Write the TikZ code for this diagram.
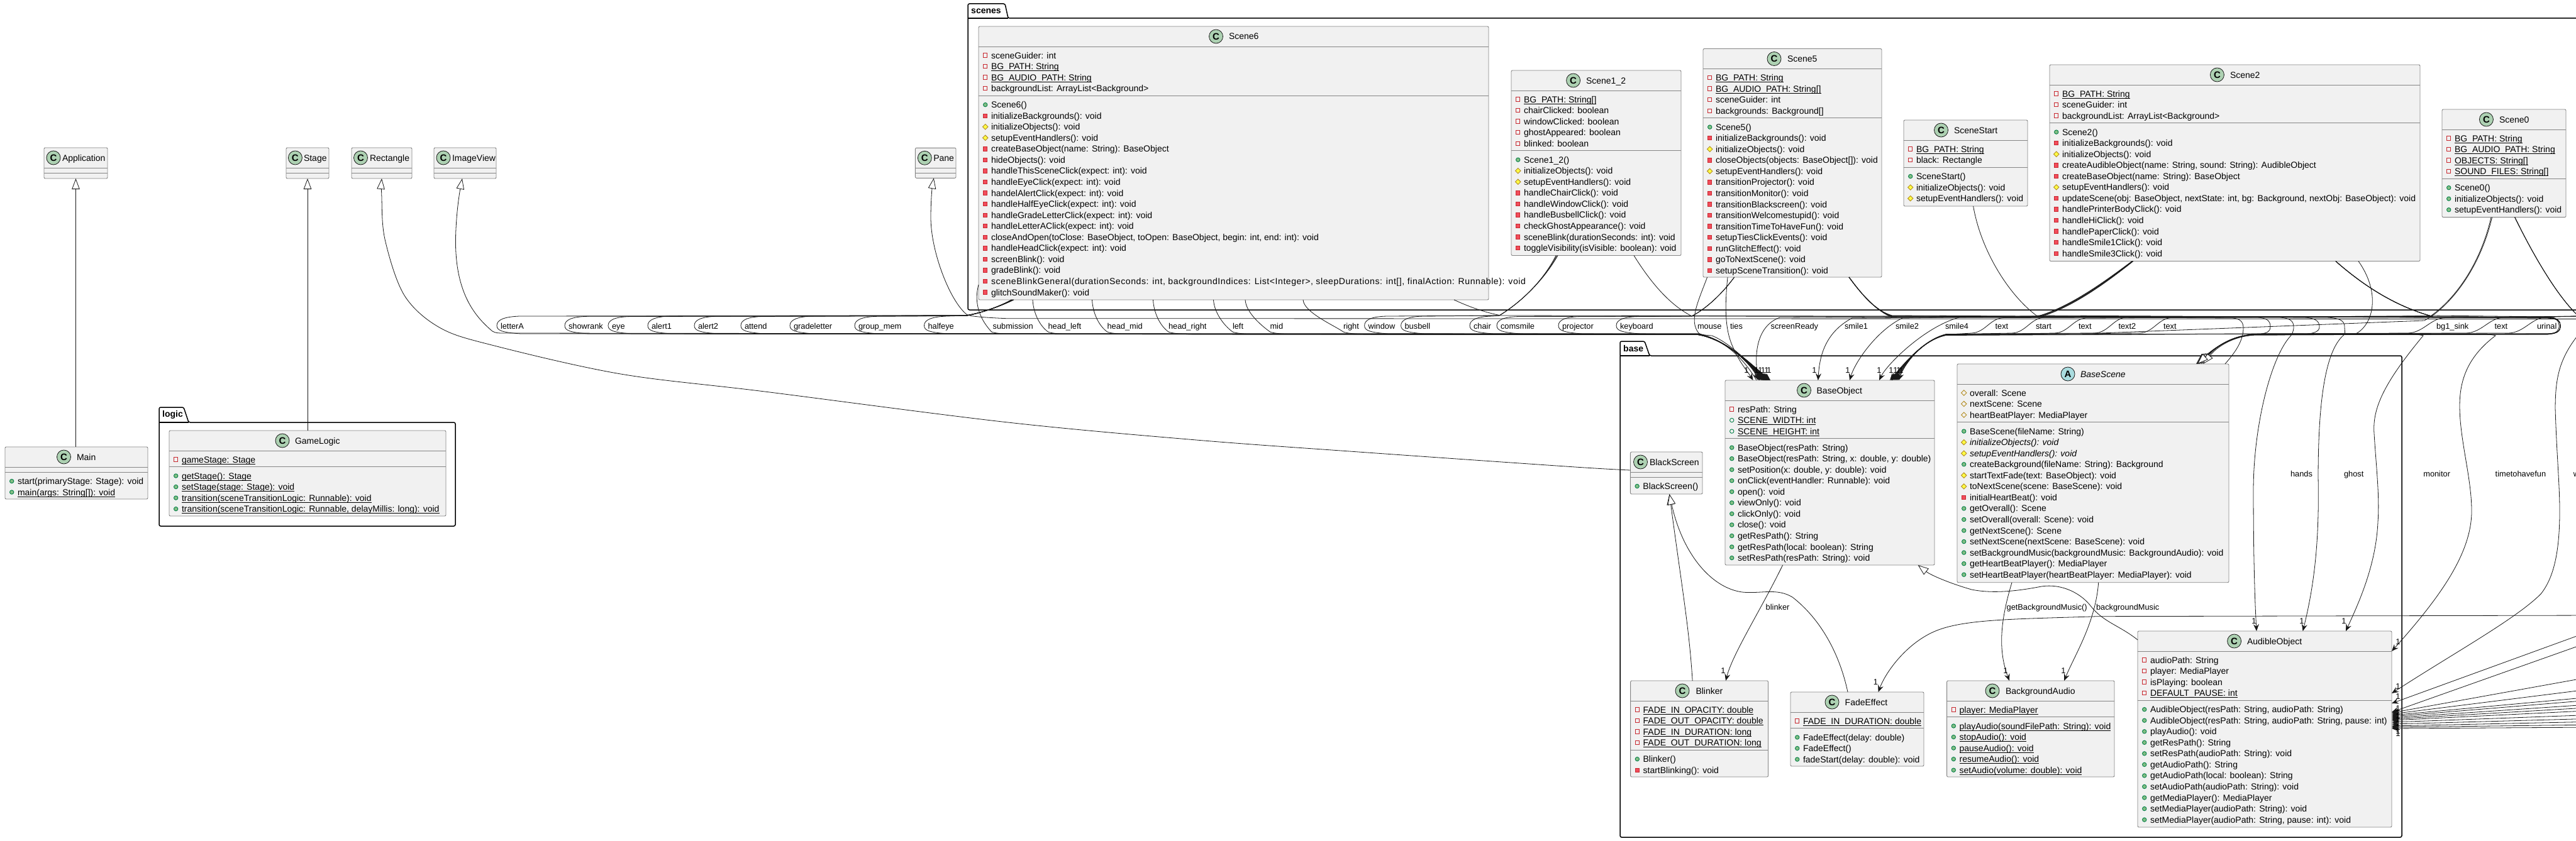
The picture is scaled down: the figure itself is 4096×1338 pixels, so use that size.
\documentclass[tikz,border=0pt]{standalone}
\usepackage{fontspec}
\setmainfont{Liberation Sans}
\usetikzlibrary{arrows.meta}
\definecolor{boxfill}{HTML}{F1F1F1}
\definecolor{boxline}{HTML}{858585}
\definecolor{edgecol}{HTML}{181818}
\definecolor{iconC}{HTML}{ADD1B2}
\definecolor{iconA}{HTML}{A9DCDF}
\definecolor{priS}{HTML}{C82930}
\definecolor{priF}{HTML}{F24D5C}
\definecolor{proS}{HTML}{B38D22}
\definecolor{proF}{HTML}{FFFF44}
\definecolor{pubS}{HTML}{038048}
\definecolor{pubF}{HTML}{84BE84}
\tikzset{
 clsbox/.style={draw=boxline,fill=boxfill,line width=.9pt,rounded corners=2pt,anchor=north west,inner sep=0pt,outer sep=0pt},
 clsline/.style={draw=boxline,line width=.9pt},
 rowtxt/.style={anchor=west,inner sep=0pt,outer sep=0pt,text height=10pt,text depth=0pt,font=\fontsize{14}{16}\selectfont},
 lbl/.style={anchor=west,inner sep=0pt,outer sep=0pt,text height=9.5pt,text depth=0pt,font=\fontsize{12.8}{15}\selectfont},
 card/.style={inner sep=0pt,outer sep=0pt,font=\fontsize{12.8}{15}\selectfont},
 iconbase/.style={circle,draw=edgecol,line width=.8pt,minimum size=22pt,inner sep=0pt,font=\fontsize{15}{16}\selectfont\bfseries},
 icC/.style={iconbase,fill=iconC},
 icA/.style={iconbase,fill=iconA},
 pkgframe/.style={draw=black,fill=white,line width=1.5pt,rounded corners=2.5pt},
 pkgname/.style={anchor=west,inner sep=0pt,font=\fontsize{14}{16}\selectfont\bfseries},
 ed/.style={draw=edgecol,line width=.8pt},
 assoc/.style={ed,-{Stealth[length=11pt,width=9pt,inset=4pt]}},
 gen/.style={ed,-{Triangle[length=17pt,width=12.5pt,fill=white]}},
}
\newcount\rcount
\def\rowstep{17.55}
\newsavebox\ulbox
\newcommand\ulx[1]{\sbox\ulbox{#1}\rlap{\rule[-2.4pt]{\wd\ulbox}{.9pt}}\usebox\ulbox}
\newcommand\icpa[2]{\draw[priS,line width=.9pt] (#1-3.2,#2-3.2) rectangle (#1+3.2,#2+3.2);}
\newcommand\icpm[2]{\draw[priS,fill=priF,line width=.9pt] (#1-3.2,#2-3.2) rectangle (#1+3.2,#2+3.2);}
\newcommand\icoa[2]{\draw[proS,line width=.9pt] (#1,#2-4.2) -- (#1+4.2,#2) -- (#1,#2+4.2) -- (#1-4.2,#2) -- cycle;}
\newcommand\icom[2]{\draw[proS,fill=proF,line width=.9pt] (#1,#2-4.2) -- (#1+4.2,#2) -- (#1,#2+4.2) -- (#1-4.2,#2) -- cycle;}
\newcommand\icua[2]{\draw[pubS,line width=.9pt] (#1,#2) circle (3.2);}
\newcommand\icum[2]{\draw[pubS,fill=pubF,line width=.9pt] (#1,#2) circle (3.2);}
% id,x0,y0,x1,y1,iconx,textx,kind,title
\newcommand\Cls[9]{%
 \node[clsbox,minimum width={(#4-#2)*1pt},minimum height={(#5-#3)*1pt}] (#1) at (#2,#3) {};
 \draw[clsline] (#2,#3+32) -- (#4,#3+32);
 \node[ic#8] (#1icon) at (#6,#3+16) {#8};
 \node[rowtxt] (#1title) at (#7,#3+16) {#9};
 \gdef\cxa{#2}\gdef\cxb{#4}%
 \pgfmathsetmacro\mytmp{#2+10.7}\global\let\rowix\mytmp
 \pgfmathsetmacro\mytmp{#2+20}\global\let\rowtx\mytmp
 \pgfmathsetmacro\mytmp{#3+46}\global\let\rowy\mytmp
}
\newcommand\Rw[2]{%
 \csname ic#1\endcsname{\rowix}{\rowy}
 \node[rowtxt] (t\the\rcount) at (\rowtx,\rowy) {#2};
 \global\advance\rcount by 1
 \pgfmathsetmacro\mytmp{\rowy+\rowstep}\global\let\rowy\mytmp
}
\newcommand\Sp{%
 \pgfmathsetmacro\mytmp{\rowy-\rowstep+11.5}
 \draw[clsline] (\cxa,\mytmp) -- (\cxb,\mytmp);
 \pgfmathsetmacro\mytmpb{\mytmp+14.5}\global\let\rowy\mytmpb
}
\newcommand\ESp{%
 \pgfmathsetmacro\mytmp{\rowy-6}
 \draw[clsline] (\cxa,\mytmp) -- (\cxb,\mytmp);
 \pgfmathsetmacro\mytmpb{\mytmp+14.5}\global\let\rowy\mytmpb
}
% id,x0,tabtop,tabr1,tabr2,bodytop,x1,y1,name
\newcommand\Pkg[9]{%
 \draw[pkgframe] (#2,#6) -- (#2,#3) -- (#4,#3) -- (#5,#6) -- (#7,#6) -- (#7,#8) -- (#2,#8) -- cycle;
 \draw[black,line width=1.5pt] (#2,#6) -- (#5,#6);
 \node[pkgname] (#1) at (#2+5,#3/2+#6/2) {#9};
}
\begin{document}
\begin{tikzpicture}[x=1pt,y=-1pt]
\useasboundingbox (0,0) rectangle (4096,1338);
\fill[white] (0,0) rectangle (4096,1338);
\Pkg{logic}{253}{648}{292}{300}{672}{724}{837}{logic}
\Pkg{scenes}{1539}{6}{1598}{1603}{29}{4130}{493}{scenes}
\Pkg{base}{2576}{543}{2615}{2623}{566}{3819}{1332}{base}

\Cls{Application}{70}{235}{171}{284}{85}{99}{C}{Application}\ESp
\Cls{Stage}{455}{235}{523}{284}{469.4}{483}{C}{Stage}\ESp
\Cls{Rectangle}{559}{235}{655}{284}{573.5}{588}{C}{Rectangle}\ESp
\Cls{ImageView}{690}{235}{789}{284}{705}{719}{C}{ImageView}\ESp
\Cls{Pane}{1455.3}{235.3}{1520}{283.3}{1470.3}{1484.3}{C}{Pane}\ESp

\Cls{Main}{8}{711}{235}{794}{101.5}{122}{C}{Main}\ESp
\Rw{um}{start(primaryStage: Stage): void}
\Rw{um}{\ulx{main(args: String[]): void}}

\Cls{GameLogic}{269}{685}{709}{821}{449}{469}{C}{GameLogic}
\Rw{pa}{\ulx{gameStage: Stage}}\Sp
\Rw{um}{\ulx{getStage(): Stage}}
\Rw{um}{\ulx{setStage(stage: Stage): void}}
\Rw{um}{\ulx{transition(sceneTransitionLogic: Runnable): void}}
\Rw{um}{\ulx{transition(sceneTransitionLogic: Runnable, delayMillis: long): void}}

\Cls{Scene6}{1556}{42}{2367}{477}{1933.5}{1954}{C}{Scene6}
\Rw{pa}{sceneGuider: int}
\Rw{pa}{\ulx{BG\_PATH: String}}
\Rw{pa}{\ulx{BG\_AUDIO\_PATH: String}}
\Rw{pa}{backgroundList: ArrayList<Background>}\Sp
\Rw{um}{Scene6()}
\Rw{pm}{initializeBackgrounds(): void}
\Rw{om}{initializeObjects(): void}
\Rw{om}{setupEventHandlers(): void}
\Rw{pm}{createBaseObject(name: String): BaseObject}
\Rw{pm}{hideObjects(): void}
\Rw{pm}{handleThisSceneClick(expect: int): void}
\Rw{pm}{handleEyeClick(expect: int): void}
\Rw{pm}{handelAlertClick(expect: int): void}
\Rw{pm}{handleHalfEyeClick(expect: int): void}
\Rw{pm}{handleGradeLetterClick(expect: int): void}
\Rw{pm}{handleLetterAClick(expect: int): void}
\Rw{pm}{closeAndOpen(toClose: BaseObject, toOpen: BaseObject, begin: int, end: int): void}
\Rw{pm}{handleHeadClick(expect: int): void}
\Rw{pm}{screenBlink(): void}
\Rw{pm}{gradeBlink(): void}
\Rw{pm}{\addfontfeature{LetterSpace=4.2}sceneBlinkGeneral(durationSeconds: int, backgroundIndices: List<Integer>, sleepDurations: int[], finalAction: Runnable): void}
\Rw{pm}{glitchSoundMaker(): void}

\Cls{Scene12}{2403}{112}{2673}{406.5}{2501.6}{2522}{C}{Scene1\_2}
\Rw{pa}{\ulx{BG\_PATH: String[]}}
\Rw{pa}{chairClicked: boolean}
\Rw{pa}{windowClicked: boolean}
\Rw{pa}{ghostAppeared: boolean}
\Rw{pa}{blinked: boolean}\Sp
\Rw{um}{Scene1\_2()}
\Rw{om}{initializeObjects(): void}
\Rw{om}{setupEventHandlers(): void}
\Rw{pm}{handleChairClick(): void}
\Rw{pm}{handleWindowClick(): void}
\Rw{pm}{handleBusbellClick(): void}
\Rw{pm}{checkGhostAppearance(): void}
\Rw{pm}{sceneBlink(durationSeconds: int): void}
\Rw{pm}{toggleVisibility(isVisible: boolean): void}

\Cls{Scene5}{2708}{77.5}{2992}{441}{2821}{2842}{C}{Scene5}
\Rw{pa}{\ulx{BG\_PATH: String}}
\Rw{pa}{\ulx{BG\_AUDIO\_PATH: String[]}}
\Rw{pa}{sceneGuider: int}
\Rw{pa}{backgrounds: Background[]}\Sp
\Rw{um}{Scene5()}
\Rw{pm}{initializeBackgrounds(): void}
\Rw{om}{initializeObjects(): void}
\Rw{pm}{closeObjects(objects: BaseObject[]): void}
\Rw{om}{setupEventHandlers(): void}
\Rw{pm}{transitionProjector(): void}
\Rw{pm}{transitionMonitor(): void}
\Rw{pm}{transitionBlackscreen(): void}
\Rw{pm}{transitionWelcomestupid(): void}
\Rw{pm}{transitionTimeToHaveFun(): void}
\Rw{pm}{setupTiesClickEvents(): void}
\Rw{pm}{runGlitchEffect(): void}
\Rw{pm}{goToNextScene(): void}
\Rw{pm}{setupSceneTransition(): void}

\Cls{SceneStart}{3027}{191}{3224}{328}{3086.5}{3107}{C}{SceneStart}
\Rw{pa}{\ulx{BG\_PATH: String}}
\Rw{pa}{black: Rectangle}\Sp
\Rw{um}{SceneStart()}
\Rw{om}{initializeObjects(): void}
\Rw{om}{setupEventHandlers(): void}

\Cls{Scene2}{3259}{103}{3848}{415.5}{3525.4}{3546}{C}{Scene2}
\Rw{pa}{\ulx{BG\_PATH: String}}
\Rw{pa}{sceneGuider: int}
\Rw{pa}{backgroundList: ArrayList<Background>}\Sp
\Rw{um}{Scene2()}
\Rw{pm}{initializeBackgrounds(): void}
\Rw{om}{initializeObjects(): void}
\Rw{pm}{createAudibleObject(name: String, sound: String): AudibleObject}
\Rw{pm}{createBaseObject(name: String): BaseObject}
\Rw{om}{setupEventHandlers(): void}
\Rw{pm}{updateScene(obj: BaseObject, nextState: int, bg: Background, nextObj: BaseObject): void}
\Rw{pm}{handlePrinterBodyClick(): void}
\Rw{pm}{handleHiClick(): void}
\Rw{pm}{handlePaperClick(): void}
\Rw{pm}{handleSmile1Click(): void}
\Rw{pm}{handleSmile3Click(): void}

\Cls{Scene0}{3883}{174}{4080}{345.6}{3953.4}{3974}{C}{Scene0}
\Rw{pa}{\ulx{BG\_PATH: String}}
\Rw{pa}{\ulx{BG\_AUDIO\_PATH: String}}
\Rw{pa}{\ulx{OBJECTS: String[]}}
\Rw{pa}{\ulx{SOUND\_FILES: String[]}}\Sp
\Rw{um}{Scene0()}
\Rw{um}{initializeObjects(): void}
\Rw{um}{setupEventHandlers(): void}

\Cls{BlackScreen}{2592.4}{719}{2707}{786}{2608.5}{2623}{C}{BlackScreen}\ESp
\Rw{um}{BlackScreen()}

\Cls{BaseObject}{2743}{605}{3076}{899}{2868.5}{2888.6}{C}{BaseObject}
\Rw{pa}{resPath: String}
\Rw{ua}{\ulx{SCENE\_WIDTH: int}}
\Rw{ua}{\ulx{SCENE\_HEIGHT: int}}\Sp
\Rw{um}{BaseObject(resPath: String)}
\Rw{um}{BaseObject(resPath: String, x: double, y: double)}
\Rw{um}{setPosition(x: double, y: double): void}
\Rw{um}{onClick(eventHandler: Runnable): void}
\Rw{um}{open(): void}
\Rw{um}{viewOnly(): void}
\Rw{um}{clickOnly(): void}
\Rw{um}{close(): void}
\Rw{um}{getResPath(): String}
\Rw{um}{getResPath(local: boolean): String}
\Rw{um}{setResPath(resPath: String): void}

\Cls{BaseScene}{3112}{579}{3544}{926.7}{3288}{3308}{A}{\itshape BaseScene}
\Rw{oa}{overall: Scene}
\Rw{oa}{nextScene: Scene}
\Rw{oa}{heartBeatPlayer: MediaPlayer}\Sp
\Rw{um}{BaseScene(fileName: String)}
\Rw{om}{\itshape initializeObjects(): void}
\Rw{om}{\itshape setupEventHandlers(): void}
\Rw{um}{createBackground(fileName: String): Background}
\Rw{om}{startTextFade(text: BaseObject): void}
\Rw{om}{toNextScene(scene: BaseScene): void}
\Rw{pm}{initialHeartBeat(): void}
\Rw{um}{getOverall(): Scene}
\Rw{um}{setOverall(overall: Scene): void}
\Rw{um}{getNextScene(): Scene}
\Rw{um}{setNextScene(nextScene: BaseScene): void}
\Rw{um}{setBackgroundMusic(backgroundMusic: BackgroundAudio): void}
\Rw{um}{getHeartBeatPlayer(): MediaPlayer}
\Rw{um}{setHeartBeatPlayer(heartBeatPlayer: MediaPlayer): void}

\Cls{Blinker}{2592.6}{1083}{2811.5}{1236}{2675}{2696.5}{C}{Blinker}
\Rw{pa}{\ulx{FADE\_IN\_OPACITY: double}}
\Rw{pa}{\ulx{FADE\_OUT\_OPACITY: double}}
\Rw{pa}{\ulx{FADE\_IN\_DURATION: long}}
\Rw{pa}{\ulx{FADE\_OUT\_DURATION: long}}\Sp
\Rw{um}{Blinker()}
\Rw{pm}{startBlinking(): void}

\Cls{FadeEffect}{2847}{1101}{3059}{1219}{2913}{2933.7}{C}{FadeEffect}
\Rw{pa}{\ulx{FADE\_IN\_DURATION: double}}\Sp
\Rw{um}{FadeEffect(delay: double)}
\Rw{um}{FadeEffect()}
\Rw{um}{fadeStart(delay: double): void}

\Cls{BackgroundAudio}{3095.6}{1083}{3362}{1236}{3168}{3189}{C}{BackgroundAudio}
\Rw{pa}{\ulx{player: MediaPlayer}}\Sp
\Rw{um}{\ulx{playAudio(soundFilePath: String): void}}
\Rw{um}{\ulx{stopAudio(): void}}
\Rw{um}{\ulx{pauseAudio(): void}}
\Rw{um}{\ulx{resumeAudio(): void}}
\Rw{um}{\ulx{setAudio(volume: double): void}}

\Cls{AudibleObject}{3399}{1004}{3803}{1316}{3552.6}{3573}{C}{AudibleObject}
\Rw{pa}{audioPath: String}
\Rw{pa}{player: MediaPlayer}
\Rw{pa}{isPlaying: boolean}
\Rw{pa}{\ulx{DEFAULT\_PAUSE: int}}\Sp
\Rw{um}{AudibleObject(resPath: String, audioPath: String)}
\Rw{um}{AudibleObject(resPath: String, audioPath: String, pause: int)}
\Rw{um}{playAudio(): void}
\Rw{um}{getResPath(): String}
\Rw{um}{setResPath(audioPath: String): void}
\Rw{um}{getAudioPath(): String}
\Rw{um}{getAudioPath(local: boolean): String}
\Rw{um}{setAudioPath(audioPath: String): void}
\Rw{um}{getMediaPlayer(): MediaPlayer}
\Rw{um}{setMediaPlayer(audioPath: String): void}
\Rw{um}{setMediaPlayer(audioPath: String, pause: int): void}

% --- straight generalisations
\draw[gen] (Application.south |- Main.north) -- (Application.south);
\draw[gen] (Stage.south |- GameLogic.north) -- (Stage.south);

% --- Rectangle <- BlackScreen
\draw[gen] plot[smooth,tension=.55] coordinates {([yshift=4.5pt]BlackScreen.west) (2500,742.7) (2160,719) (1902,700) (1600,671.7) (1216,623) (987,595) (786,550) (700,521.7) (643,470) (612,380.6) (606.8,310) (Rectangle.south)};
% --- ImageView <- BaseObject
\draw[gen] ([xshift=50pt]BaseObject.north west) .. controls (2775,575) and (2745,540) .. (2700,532) -- (800,530) .. controls (793,530) and (788,530) .. (783,527) .. controls (757,505) and (726,470) .. (724.5,390) .. controls (724,350) and (730,310) .. ([xshift=45pt]ImageView.south west);
% --- Pane
\draw[gen] (4130,507.5) -- (1600,506.7) .. controls (1560,505) and (1540,503) .. (1536.7,500) .. controls (1510,478) and (1480,400) .. (1480,346) .. controls (1480,320) and (1482,300) .. ([xshift=29.5pt]Pane.south west);

% --- Scene6 loops to the left of the scene box
\foreach \lx/\tp/\dy/\sx in {796/55/0/52,904/58/.6/52.5,973/61/1/53,1036/64/-.5/53.5,1110/66/.3/54,1184/68/.8/54.5,1262/70/-.3/55,1365/71/.6/55.5,1475.5/72/0/56}{
 \draw[assoc] ([xshift=\sx pt]Scene6.south west) .. controls (1585,490) and (1555,499) .. (1536,502+\dy*.5) -- (\lx+30,503+\dy*.5) .. controls (\lx+5,504) and (\lx-6,509) .. (\lx-6,518) .. controls (\lx-6,526) and (\lx+3,529) .. (\lx+32,531) -- (2700,531.5+\dy) .. controls (2745,540) and (2785,580) .. ([xshift=\tp pt]BaseObject.north west);
}
% --- Scene6 edges through labels right of the box
\foreach \lx/\sx/\tp/\dy in {1666.5/1642/56/.5,1760.6/1736.5/59/-.5,1858/1833.5/62/1,1960/1929.5/65/0,2019.5/1980/67/.6,2136/2072/69/-.3}{
 \draw[assoc] ([xshift={(\sx-1556)*1pt}]Scene6.south west) .. controls (\sx+1,497) and (\lx-14,518) .. (\lx,528) .. controls (\lx+5,530) and (\lx+14,531) .. (\lx+30,531.5) -- (2700,531.5+\dy) .. controls (2745,540) and (2785,580) .. ([xshift=\tp pt]BaseObject.north west);
}
\draw[assoc] ([yshift=24pt]Scene6.south west) .. controls (1549,478) and (1555,505) .. (1576.7,528) .. controls (1582,530) and (1590,531) .. (1610,531.5) -- (2700,532) .. controls (2745,540) and (2785,580) .. ([xshift=53pt]BaseObject.north west);
% --- Scene1_2 loops
\foreach \lx/\sx/\tp in {2175.6/71/60,2233.6/72.5/63,2343/74/66}{
 \draw[assoc] ([xshift=\sx pt]Scene12.south west) .. controls (2455,445) and (2420,480) .. (2384,502) -- (\lx+30,503) .. controls (\lx+5,503.5) and (\lx-6,509) .. (\lx-6,518) .. controls (\lx-6,526) and (\lx+3,529) .. (\lx+32,531) -- (2700,532) .. controls (2745,540) and (2785,580) .. ([xshift=\tp pt]BaseObject.north west);
}
% --- Scene5 loops
\foreach \lx/\tp in {2386/64,2484/67,2576/70}{
 \draw[assoc] ([xshift=49.6pt]Scene5.south west) .. controls (2740,465) and (2715,490) .. (2690,503) -- (\lx+30,503.5) .. controls (\lx+5,504) and (\lx-6,509) .. (\lx-6,518) .. controls (\lx-6,526) and (\lx+3,529) .. (\lx+32,531) -- (2700,532.5) .. controls (2745,540) and (2785,580) .. ([xshift=\tp pt]BaseObject.north west);
}
\draw[assoc] ([xshift=6.6pt]Scene5.south west) .. controls (2700,480) and (2685,510) .. (2701,530) .. controls (2705,533) and (2712,533) .. (2722,534) .. controls (2750,545) and (2785,580) .. ([xshift=62pt]BaseObject.north west);
\draw[assoc] ([xshift=39pt]Scene5.south west) .. controls (2741,500) and (2745,530) .. (2756,553.6) .. controls (2765,575) and (2778,590) .. ([xshift=44.5pt]BaseObject.north west);
% --- Scene2 bundle, to BaseObject
\draw[assoc] ([xshift=132pt]Scene2.south west) .. controls (3340,455) and (3290,490) .. (3241,503) -- (2830,505) .. controls (2790,520) and (2790,570) .. ([xshift=53pt]BaseObject.north west);
\draw[assoc] ([xshift=132.5pt]Scene2.south west) .. controls (3340,456) and (3290,491) .. (3241,504) -- (2945,506) .. controls (2900,530) and (2893,570) .. ([xshift=147.8pt]BaseObject.north west);
\draw[assoc] ([xshift=131.5pt]Scene2.south west) .. controls (3340,454) and (3290,489) .. (3241,503) -- (3025,506) .. controls (2985,525) and (2950,575) .. ([xshift=198pt]BaseObject.north west);
\draw[assoc] ([xshift=133pt]Scene2.south west) .. controls (3340,457) and (3290,491) .. (3241,505) -- (3115,505) .. controls (3060,520) and (3000,580) .. ([xshift=245pt]BaseObject.north west);
% --- S-shaped label passages
\foreach \lx/\tp/\dy in {3172.6/262/.5,3237/264/0,3305/266/1,3368.5/268/-.5,3440/270/.3}{
 \draw[assoc] ([xshift=454.8pt]Scene2.south west) .. controls (3770,465) and (3820,490) .. (3866,503) -- (\lx+15,505+\dy) .. controls (\lx-8,505) and (\lx-15,529) .. (\lx-38,530) -- (3094.5,532+\dy) .. controls (3060,540) and (3030,575) .. ([xshift=\tp pt]BaseObject.north west);
}
\foreach \lx/\tp/\dy in {3874/272/.5,3966.6/274/0,4034/276/-.5}{
 \draw[assoc] ([xshift=115.6pt]Scene0.south west) .. controls (4040,430) and (4075,480) .. (4100,503) -- (\lx+15,505+\dy) .. controls (\lx-8,505) and (\lx-20,529) .. (\lx-45,530) -- (3094.5,533+\dy) .. controls (3060,540) and (3030,575) .. ([xshift=\tp pt]BaseObject.north west);
}
\draw[assoc] ([xshift=79.5pt]Scene0.south west) .. controls (3945,420) and (3905,475) .. (3868,502) -- (3855,510) -- (3340,530) -- (3094.5,533) .. controls (3060,540) and (3030,575) .. ([xshift=265pt]BaseObject.north west);
% --- generalisations to BaseScene
\draw[gen] ([xshift=756pt]Scene6.south west) .. controls (2340,490) and (2365,498) .. (2387,502) -- (4050,505) .. controls (4068,506) and (4071,512) .. (4071,518) .. controls (4071,526) and (4068,530) .. (4050,531) -- (3585,532) .. controls (3550,534) and (3525,550) .. ([xshift=380pt]BaseScene.north west);
\draw[gen] ([xshift=195pt]Scene12.south west) .. controls (2625,450) and (2655,485) .. (2690,503) -- (4050,504.5) .. controls (4068,505) and (4071,512) .. (4071,518) .. controls (4071,526) and (4068,531) .. (4050,531.5) -- (3585,533) .. controls (3550,535) and (3525,550) .. ([xshift=381pt]BaseScene.north west);
\draw[gen] ([xshift=232pt]Scene5.south west) .. controls (2965,475) and (2985,495) .. (3008.5,503) -- (4050,504) .. controls (4066,505) and (4069,512) .. (4069,518) .. controls (4069,526) and (4066,530) .. (4050,532) -- (3585,532) .. controls (3550,534) and (3525,550) .. ([xshift=383pt]BaseScene.north west);
\draw[gen] ([xshift=110.6pt]SceneStart.south west) .. controls (3150,400) and (3195,470) .. (3238,502) -- (4050,506) .. controls (4068,507) and (4071,512) .. (4071,518) .. controls (4071,526) and (4068,531) .. (4050,531) -- (3585,532) .. controls (3550,533) and (3525,550) .. ([xshift=385pt]BaseScene.north west);
\draw[gen] ([xshift=131pt]Scene2.south west) .. controls (3340,453) and (3290,488) .. (3241,503) -- (4050,505.5) .. controls (4068,506) and (4071,512) .. (4071,518) .. controls (4071,526) and (4068,531) .. (4050,532) -- (3585,532.5) .. controls (3550,535) and (3525,550) .. ([xshift=388pt]BaseScene.north west);
\draw[gen] ([xshift=78pt]Scene0.south west) .. controls (3944,420) and (3904,475) .. (3866,502) -- (4050,504) .. controls (4068,505) and (4071,512) .. (4071,518) .. controls (4071,526) and (4068,531) .. (4050,531) -- (3585,533) .. controls (3550,535) and (3525,552) .. ([xshift=391pt]BaseScene.north west);
\draw[gen] ([xshift=491pt]Scene2.south west) .. controls (3785,465) and (3775,515) .. (3746,531) -- (3585,532) .. controls (3550,534) and (3525,550) .. ([xshift=382pt]BaseScene.north west);
\draw[ed] ([xshift=232pt]Scene5.south west) .. controls (2965,475) and (2985,495) .. (3008.5,503) -- (3550,506) .. controls (3562,507) and (3567,512) .. (3567,522) .. controls (3567,545) and (3550,565) .. ([xshift=426pt]BaseScene.north west);
% --- bulging edges to AudibleObject
\draw[assoc] ([xshift=232pt]Scene5.south west) .. controls (2965,475) and (2985,495) .. (3008.5,504) -- (3625,505) .. controls (3640,506) and (3647,510) .. (3647,520) .. controls (3647,528) and (3644,532) .. (3641.7,535) .. controls (3610,570) and (3583,680) .. (3583,780) .. controls (3583,880) and (3585,950) .. ([xshift=189pt]AudibleObject.north west);
\draw[assoc] ([xshift=232pt]Scene5.south west) .. controls (2965,475) and (2985,495) .. (3008.5,503) -- (3700,505) .. controls (3720,506) and (3728,510) .. (3728,520) .. controls (3728,528) and (3730,530) .. (3726.7,533) .. controls (3695,560) and (3686,650) .. (3686,760) .. controls (3688,860) and (3680,930) .. ([xshift=262.6pt]AudibleObject.north west);
\draw[assoc] ([xshift=232pt]Scene5.south west) .. controls (2965,475) and (2985,495) .. (3008.5,505) -- (3590,505) .. controls (3604,506) and (3610,510) .. (3610,520) .. controls (3610,527) and (3605,530) .. (3595,531) -- (3830,531.5) .. controls (3845,532) and (3850,533) .. (3853,534) .. controls (3790,610) and (3772,650) .. (3775,690) .. controls (3778,740) and (3784,790) .. (3781,830) .. controls (3778,900) and (3750,960) .. ([xshift=331pt]AudibleObject.north west);
\draw[assoc] ([xshift=232pt]Scene5.south west) .. controls (2965,475) and (2985,495) .. (3008.5,502) -- (3665,505) .. controls (3680,506) and (3688,510) .. (3688,520) .. controls (3688,527) and (3680,530) .. (3670,531) -- (3950,532) .. controls (3960,532) and (3965,533) .. (3968,534) .. controls (3920,570) and (3911,610) .. (3911,646) .. controls (3911,700) and (3930,760) .. (3930,813) .. controls (3930,880) and (3880,950) .. ([yshift=-32pt]AudibleObject.north east);
\draw[assoc] (4130,531) -- (4100,532) .. controls (4070,570) and (4063,600) .. (4063,650) .. controls (4065,720) and (4070,770) .. (4070,813) .. controls (4070,880) and (4060,920) .. (4040,945) .. controls (4000,985) and (3900,1040) .. ([yshift=-99pt]AudibleObject.north east);
% --- right-hand fan
\foreach \sy/\tp in {1000/115,1017/129,1075/130,1095/132,1108/134,1113/136,1120/138,1125/140,1130/142,1137/145,1143/148,1148/151,1153/153,1157/155}{
 \draw[assoc] (4130,\sy) -- ([yshift=-\tp pt]AudibleObject.north east);
}
\draw[assoc] (4130,979) -- (3335,980.7) .. controls (3200,985) and (3120,985) .. (3075,1005) .. controls (3030,1025) and (2998,1070) .. ([xshift=139.6pt]FadeEffect.north west);

% --- lower part of base
\draw[assoc] ([xshift=91.6pt]BaseObject.south west) .. controls (2800,970) and (2755,1040) .. ([xshift=151.4pt]Blinker.north west);
\draw[assoc] ([xshift=87pt]BaseScene.south west) .. controls (3183,980) and (3175,1030) .. ([xshift=99.4pt]BackgroundAudio.north west);
\draw[assoc] ([xshift=224.7pt]BaseScene.south west) .. controls (3332,990) and (3300,1040) .. ([xshift=186.4pt]BackgroundAudio.north west);
\draw[gen] ([xshift=98.5pt]Blinker.north west) .. controls (2686,1000) and (2675,940) .. ([xshift=62pt]BlackScreen.south west);
\draw[gen] ([xshift=91pt]FadeEffect.north west) .. controls (2925,1040) and (2895,985) .. (2850,950) .. controls (2825,935) and (2800,945) .. (2770,942) .. controls (2720,935) and (2675,880) .. ([xshift=62pt]BlackScreen.south west);
\draw[gen] ([yshift=-14pt]AudibleObject.north west) .. controls (3370,995) and (3345,990) .. (3325,965) .. controls (3310,945) and (3280,928) .. (3246,933) .. controls (3210,940) and (3170,945) .. (3135,938) .. controls (3100,928) and (3070,915) .. ([xshift=-26.4pt]BaseObject.south east);

% --- edge labels
\foreach \lx/\nm/\tx in {796/la/letterA,904/lb/showrank,973/lc/eye,1036/ld/alert1,1110/le/alert2,1184/lf/attend,1262/lg/gradeletter,1365/lh/group\_mem,1475.5/li/halfeye,1578.6/lj/submission,1666.5/lk/head\_left,1760.6/ll/head\_mid,1858/lm/head\_right,1960/ln/left,2019.5/lo/mid,2136/lp/right,2175.6/lq/window,2233.6/lr/busbell,2343/ls/chair,2386/lt/comsmile,2484/lu/projector,2576/lv/keyboard,2699/lw/mouse,2751/lx/ties,2815.6/ly/screenReady,2933/lz/smile1,3014/ma/smile2,3093/mb/smile4,3172.6/mc/text,3237/md/start,3305/me/text,3368.5/mf/text2,3440/mg/text,3874/mh/bg1\_sink,3966.6/mi/text,4034/mj/urinal}{
 \node[lbl] (\nm) at (\lx,518.8) {\tx};
}
\foreach \lx/\ly/\nm/\tx in {3642/753.3/na/hands,3727/753.3/nb/ghost,3853.3/753.3/nc/monitor,3967.7/753.3/nd/timetohavefun,4091.7/753.3/ne/w,2807.7/965.7/nf/blinker,3190.6/965.7/ng/getBackgroundMusic(),3333/965.7/nh/backgroundMusic}{
 \node[lbl] (\nm) at (\lx,\ly) {\tx};
}
% --- multiplicities
\foreach \cx/\cy [count=\ci] in {2777/589,2793/589,2799/589,2803.5/589,2809/589,2813/589,2885/589,2938/589,2988/589,3007/589,3014/589,3019/589,3023/589,2740/1066.7,2982.5/1085,3189/1066.7,3281/1066.7,3584/988,3660/988,3727/988,3813/1021,3813/1091.7,3813/1108,3813/1127,3813/1133,3813/1139,3813/1145,3813/1151,3813/1157,3813/1163,3813/1167}{
 \node[card] (c\ci) at (\cx,\cy) {1};
}
\end{tikzpicture}
\end{document}
